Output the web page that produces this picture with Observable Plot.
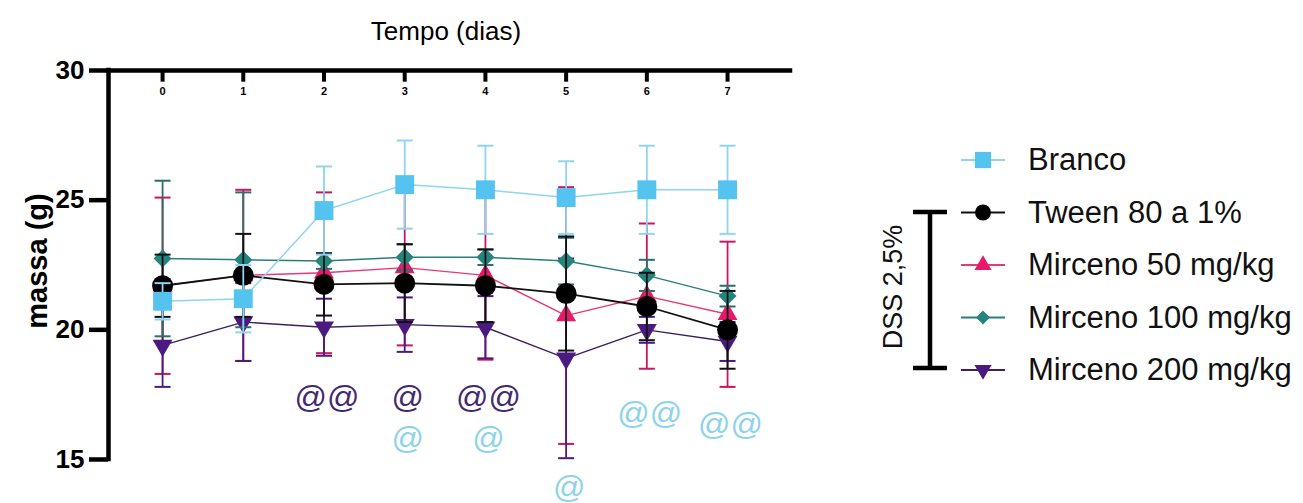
<!DOCTYPE html>
<html><head><meta charset="utf-8">
<script src="https://cdn.jsdelivr.net/npm/d3@7"></script>
<script src="https://cdn.jsdelivr.net/npm/@observablehq/plot@0.6"></script>
<style>body{margin:0;background:#fff;} svg{display:block}</style>
</head><body><div id="chart"></div>
<script>
// ---------- data ----------
const days = [0, 1, 2, 3, 4, 5, 6, 7];
const seriesNames = ["Branco", "Tween 80 a 1%", "Mirceno 50 mg/kg", "Mirceno 100 mg/kg", "Mirceno 200 mg/kg"];
const branco    = [21.1, 21.2, 24.6, 25.6, 25.4, 25.1, 25.4, 25.4];
const brancoSd  = [0.7, 1.3, 1.7, 1.7, 1.7, 1.4, 1.7, 1.7];
const tween     = [21.7, 22.1, 21.75, 21.8, 21.7, 21.4, 20.9, 20.0];
const tweenSd   = [1.2, 1.6, 1.2, 1.5, 1.4, 2.2, 1.3, 1.5];
const m50       = [21.7, 22.1, 22.2, 22.4, 22.1, 20.55, 21.3, 20.6];
const m50Sd     = [3.4, 3.3, 3.1, 3.0, 3.25, 4.95, 2.8, 2.8];
const m100      = [22.75, 22.7, 22.65, 22.8, 22.8, 22.65, 22.1, 21.3];
const m100Sd    = [3.0, 2.6, 0.3, 0.5, 0.3, 0.9, 0.6, 0.4];
const m200      = [19.4, 20.3, 20.1, 20.2, 20.1, 18.9, 20.0, 19.55];
const m200Sd    = [1.6, 1.5, 1.1, 1.05, 1.2, 3.85, 0.5, 0.75];
const yTicks = [15, 20, 25, 30];
const annDays  = [2, 3, 4, 3, 4, 5, 6, 7];
const annTexts = ["@@", "@", "@@", "@", "@", "@", "@@", "@@"];
const annY     = [17.4, 17.4, 17.4, 15.8, 15.8, 13.9, 16.75, 16.35];
const annGroup = ["m200", "m200", "m200", "branco", "branco", "branco", "branco", "branco"];
const xTitle = "Tempo (dias)";
const yTitle = "massa (g)";
const bracketLabel = "DSS 2,5%";

// ---------- styles ----------
const FONT = "'Liberation Sans', Arial, Helvetica, sans-serif";
const r = (ctx, size) => Math.sqrt(size / Math.PI);
const capSym = {draw(ctx, size) { const w = r(ctx, size); ctx.moveTo(-w, 0); ctx.lineTo(w, 0); }};
const triUp = {draw(ctx, size) { const s = r(ctx, size) * 1.9, h = s * 0.866; ctx.moveTo(0, -h * 2 / 3); ctx.lineTo(s / 2, h / 3); ctx.lineTo(-s / 2, h / 3); ctx.closePath(); }};
const triDown = {draw(ctx, size) { const s = r(ctx, size) * 1.9, h = s * 0.866; ctx.moveTo(0, h * 2 / 3); ctx.lineTo(s / 2, -h / 3); ctx.lineTo(-s / 2, -h / 3); ctx.closePath(); }};
const sqSym = {draw(ctx, size) { const a = r(ctx, size) * 0.9; ctx.rect(-a, -a, 2 * a, 2 * a); }};
const diaSym = {draw(ctx, size) { const a = r(ctx, size); ctx.moveTo(0, -a); ctx.lineTo(a, 0); ctx.lineTo(0, a); ctx.lineTo(-a, 0); ctx.closePath(); }};
const circSym = {draw(ctx, size) { const a = r(ctx, size); ctx.moveTo(a, 0); ctx.arc(0, 0, a, 0, 2 * Math.PI); }};

const series = [
  {key: "branco", name: seriesNames[0], mean: branco, sd: brancoSd, fill: "#55c3f0", line: "#8fd4f0", bar: "#8fd4f0", lw: 1.5, sym: sqSym, r: 10.5, lr: 9},
  {key: "tween",  name: seriesNames[1], mean: tween,  sd: tweenSd,  fill: "#000000", line: "#111111", bar: "#111111", lw: 1.8, sym: circSym, r: 10.5, lr: 8},
  {key: "m50",    name: seriesNames[2], mean: m50,    sd: m50Sd,    fill: "#e8186a", line: "#e33a78", bar: "#cc1560", lw: 1.4, sym: triUp, r: 10.5, lr: 9},
  {key: "m100",   name: seriesNames[3], mean: m100,   sd: m100Sd,   fill: "#24857f", line: "#2a7e79", bar: "#2b6e6a", lw: 1.5, sym: diaSym, r: 9, lr: 7},
  {key: "m200",   name: seriesNames[4], mean: m200,   sd: m200Sd,   fill: "#4b1a80", line: "#3b2060", bar: "#4b1a80", lw: 1.4, sym: triDown, r: 10.5, lr: 9}
];
const drawOrder = ["m50", "m200", "m100", "tween", "branco"];
const annColor = {m200: "#45296e", branco: "#8dd3ea"};

const rows = s => days.map((d, i) => ({day: d, mean: s.mean[i], lo: s.mean[i] - s.sd[i], hi: s.mean[i] + s.sd[i]}));

const seriesMarks = drawOrder.flatMap(k => {
  const s = series.find(t => t.key === k);
  const data = rows(s);
  return [
    Plot.ruleX(data, {x: "day", y1: "lo", y2: "hi", stroke: s.bar, strokeWidth: 1.8}),
    Plot.dot(data, {x: "day", y: "lo", symbol: capSym, r: 8, stroke: s.bar, strokeWidth: 2, fill: "none"}),
    Plot.dot(data, {x: "day", y: "hi", symbol: capSym, r: 8, stroke: s.bar, strokeWidth: 2, fill: "none"}),
    Plot.line(data, {x: "day", y: "mean", stroke: s.line, strokeWidth: s.lw}),
    Plot.dot(data, {x: "day", y: "mean", symbol: s.sym, r: s.r, fill: s.fill, stroke: "none"})
  ];
});

const ann = annDays.map((d, i) => ({day: d, y: annY[i], text: annTexts[i], g: annGroup[i]}));

const chart = Plot.plot({
  width: 1303, height: 503,
  marginLeft: 108, marginRight: 513, marginTop: 70, marginBottom: 44,
  x: {domain: [-0.67, 7.78], axis: null},
  y: {domain: [15, 30], axis: null},
  style: {fontFamily: FONT, background: "#fff", overflow: "visible"},
  marks: [
    ...seriesMarks,
    Plot.text(ann, {x: "day", y: "y", text: "text", fill: d => annColor[d.g], fontSize: 32, dx: 3, lineAnchor: "middle"}),
    // frame lines
    Plot.ruleY([30], {stroke: "#000", strokeWidth: 4.5, strokeLinecap: "square"}),
    Plot.ruleX([-0.67], {y1: 15, y2: 30, stroke: "#000", strokeWidth: 4.5, strokeLinecap: "square"}),
    // top axis ticks & labels
    Plot.ruleX(days, {x: d => d, y1: 30, y2: 29.55, stroke: "#000", strokeWidth: 4}),
    Plot.text(days, {x: d => d, frameAnchor: "top", lineAnchor: "middle", dy: 21, text: d => String(d), fontSize: 11, fontWeight: "bold", fill: "#000"}),
    // left axis ticks & labels
    Plot.axisY({ticks: yTicks, tickSize: 19, tickPadding: 4, strokeWidth: 4.5, text: null, label: null, color: "#000"}),
    Plot.text(yTicks, {y: d => d, frameAnchor: "left", dx: -24, textAnchor: "end", lineAnchor: "middle", text: d => String(d), fontSize: 26, fontWeight: "bold", fill: "#000"})
  ]
});
document.getElementById("chart").append(chart);

const svg = d3.select(chart);
// axis titles
svg.append("text").attr("x", 446).attr("y", 31).attr("text-anchor", "middle").attr("dominant-baseline", "central")
  .attr("font-family", FONT).attr("font-size", 26).attr("fill", "#000").text(xTitle);
svg.append("text").attr("transform", "translate(37,261) rotate(-90)").attr("text-anchor", "middle").attr("dominant-baseline", "central")
  .attr("font-family", FONT).attr("font-size", 29).attr("font-weight", "bold").attr("fill", "#000").text(yTitle);

// ---------- legend ----------
const lg = svg.append("g").attr("font-family", FONT).attr("text-anchor", "start");
series.forEach((s, i) => {
  const y = 160 + 52.5 * i;
  lg.append("line").attr("x1", 961).attr("x2", 1005).attr("y1", y).attr("y2", y)
    .attr("stroke", s.line).attr("stroke-width", 2);
  lg.append("path").attr("transform", `translate(983,${y})`)
    .attr("d", d3.symbol().type(s.sym).size(s.lr * s.lr * Math.PI)()).attr("fill", s.fill);
  lg.append("text").attr("x", 1028).attr("y", y + 10).attr("text-anchor", "start")
    .attr("font-size", 31).attr("fill", "#111").text(s.name);
});
lg.append("path").attr("d", "M913,212H947M930,212V368M913,368H947")
  .attr("stroke", "#000").attr("stroke-width", 4.5).attr("fill", "none");
lg.append("text").attr("transform", "translate(893,287) rotate(-90)")
  .attr("text-anchor", "middle").attr("dominant-baseline", "central")
  .attr("font-size", 27).attr("fill", "#111").text(bracketLabel);
</script>
</body></html>
